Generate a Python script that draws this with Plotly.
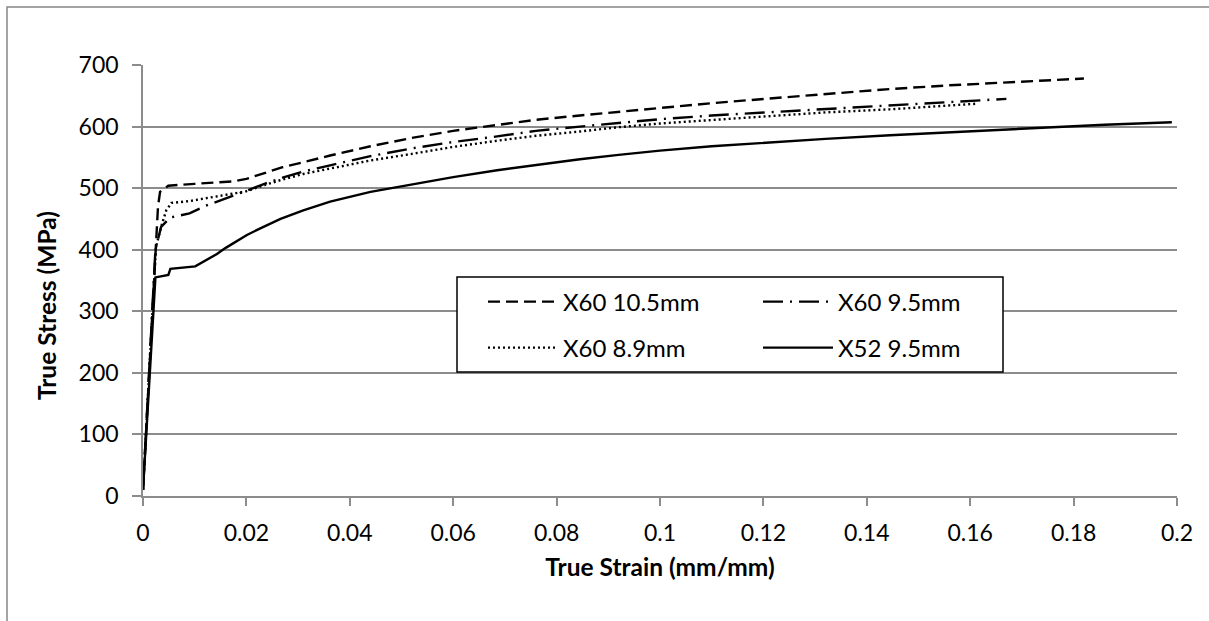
import plotly.graph_objects as go

# ---- data ----
strain_x60_105 = [0, 0.0024, 0.0029, 0.0033, 0.0049, 0.010, 0.0174, 0.020, 0.0235, 0.027, 0.031,
                  0.0362, 0.044, 0.0523, 0.060, 0.0685, 0.076, 0.0845, 0.092, 0.100, 0.110,
                  0.1203, 0.132, 0.1445, 0.156, 0.1687, 0.176, 0.182]
stress_x60_105 = [10, 390, 470, 494, 504, 507, 511, 515, 524, 534, 542,
                  553, 568, 582, 593, 603, 611, 618, 624, 630, 638,
                  645, 653, 661, 667, 672, 675, 678]

strain_x60_95 = [0, 0.0024, 0.0035, 0.0052, 0.009, 0.012, 0.0163, 0.020, 0.0235, 0.027, 0.031,
                 0.0362, 0.044, 0.0523, 0.060, 0.0685, 0.076, 0.0845, 0.092, 0.100, 0.110,
                 0.1203, 0.132, 0.1445, 0.156, 0.167]
stress_x60_95 = [10, 400, 437, 452, 459, 471, 484, 496, 507, 517, 527,
                 537, 552, 565, 575, 584, 593, 600, 606, 612, 618,
                 623, 629, 634, 640, 645]

strain_x60_89 = [0, 0.0025, 0.0035, 0.0045, 0.0055, 0.009, 0.018, 0.020, 0.0235, 0.027, 0.031,
                 0.0362, 0.044, 0.0523, 0.060, 0.0685, 0.076, 0.0845, 0.092, 0.100, 0.110,
                 0.1203, 0.132, 0.1445, 0.152, 0.161]
stress_x60_89 = [10, 404, 437, 464, 476, 479, 492, 495, 505, 514, 523,
                 532, 545, 556, 567, 577, 585, 592, 599, 605, 611,
                 617, 623, 628, 632, 637]

strain_x52_95 = [0, 0.0024, 0.0049, 0.0053, 0.0101, 0.012, 0.0143, 0.016, 0.0201, 0.023, 0.0266,
                 0.031, 0.0362, 0.044, 0.0523, 0.060, 0.0685, 0.076, 0.0845, 0.092, 0.100,
                 0.110, 0.1203, 0.132, 0.1445, 0.156, 0.1687, 0.176, 0.186, 0.199]
stress_x52_95 = [10, 355, 359, 369, 373, 382, 393, 403, 424, 436, 450,
                 464, 478, 494, 507, 518, 529, 538, 547, 554, 561,
                 568, 574, 580, 586, 591, 596, 599.5, 603, 607]

series_names = ["X60 10.5mm", "X60 9.5mm", "X60 8.9mm", "X52 9.5mm"]
x_ticks = [0, 0.02, 0.04, 0.06, 0.08, 0.1, 0.12, 0.14, 0.16, 0.18, 0.2]
x_tick_text = ["0", "0.02", "0.04", "0.06", "0.08", "0.1", "0.12", "0.14", "0.16", "0.18", "0.2"]
y_ticks = [0, 100, 200, 300, 400, 500, 600, 700]
x_title = "True Strain (mm/mm)"
y_title = "True Stress (MPa)"

FONT = "Lato"
GRID = "#8c8c8c"
LW = 2.4

fig = go.Figure()
fig.add_trace(go.Scatter(x=strain_x60_105, y=stress_x60_105, mode="lines", name=series_names[0],
                         line=dict(color="black", width=LW, dash="12px,6px"), legend="legend"))
fig.add_trace(go.Scatter(x=strain_x60_95, y=stress_x60_95, mode="lines", name=series_names[1],
                         line=dict(color="black", width=LW, dash="20px,7px,2px,7px"), legend="legend"))
fig.add_trace(go.Scatter(x=strain_x60_89, y=stress_x60_89, mode="lines", name=series_names[2],
                         line=dict(color="black", width=LW, dash="2px,3px"), legend="legend2"))
fig.add_trace(go.Scatter(x=strain_x52_95, y=stress_x52_95, mode="lines", name=series_names[3],
                         line=dict(color="black", width=LW), legend="legend2"))

L, R, T, B = 143, 32, 65, 125
W, H = 1209, 621
pw, ph = W - L - R, H - T - B

def px_x(p):
    return (p - L) / pw

def px_y(p):
    return (H - B - p) / ph

leg_common = dict(orientation="h", entrywidth=190, entrywidthmode="pixels", itemwidth=70,
                  font=dict(family=FONT, size=24, color="black"), bgcolor="rgba(0,0,0,0)",
                  borderwidth=0, xanchor="left", yanchor="middle", tracegroupgap=0,
                  itemclick=False, itemdoubleclick=False)

fig.update_layout(
    width=W, height=H,
    margin=dict(l=L, r=R, t=T, b=B),
    paper_bgcolor="white", plot_bgcolor="white",
    font=dict(family=FONT, size=23, color="black"),
    showlegend=True,
    legend=dict(x=px_x(483), y=px_y(302), **leg_common),
    legend2=dict(x=px_x(483), y=px_y(348), **leg_common),
    xaxis=dict(range=[0, 0.2], tickvals=x_ticks, ticktext=x_tick_text,
               showgrid=False, zeroline=False, showline=True, linecolor=GRID, linewidth=1.5,
               ticks="outside", ticklen=8, tickwidth=1.5, tickcolor=GRID,
               ticklabelstandoff=8,
               tickfont=dict(family=FONT, size=23, color="black"),
               title=dict(text="<b>" + x_title + "</b>", font=dict(family=FONT, size=24.5, color="black"),
                          standoff=14),
               automargin=False, fixedrange=True),
    yaxis=dict(range=[0, 700], tickvals=y_ticks,
               showgrid=True, gridcolor=GRID, gridwidth=1.5,
               zeroline=False, showline=True, linecolor=GRID, linewidth=1.5,
               ticks="outside", ticklen=9, tickwidth=1.5, tickcolor=GRID,
               ticklabelstandoff=9,
               tickfont=dict(family=FONT, size=23, color="black"),
               automargin=False, fixedrange=True),
    annotations=[
        dict(text="<b>" + y_title + "</b>", xref="paper", yref="paper",
             x=px_x(46), y=px_y(306), xanchor="center", yanchor="middle",
             textangle=-90, showarrow=False,
             font=dict(family=FONT, size=24.5, color="black")),
    ],
    shapes=[
        # legend box
        dict(type="rect", xref="paper", yref="paper", layer="above",
             x0=px_x(457), x1=px_x(1003), y0=px_y(372), y1=px_y(277),
             line=dict(color="black", width=1.5), fillcolor="white"),
        # outer chart border
        dict(type="rect", xref="paper", yref="paper", layer="below",
             x0=px_x(7), x1=px_x(1300), y0=px_y(700), y1=px_y(7),
             line=dict(color="#878787", width=1.5), fillcolor="rgba(0,0,0,0)"),
    ],
)

fig.write_html("out.html", config=dict(displayModeBar=False))
